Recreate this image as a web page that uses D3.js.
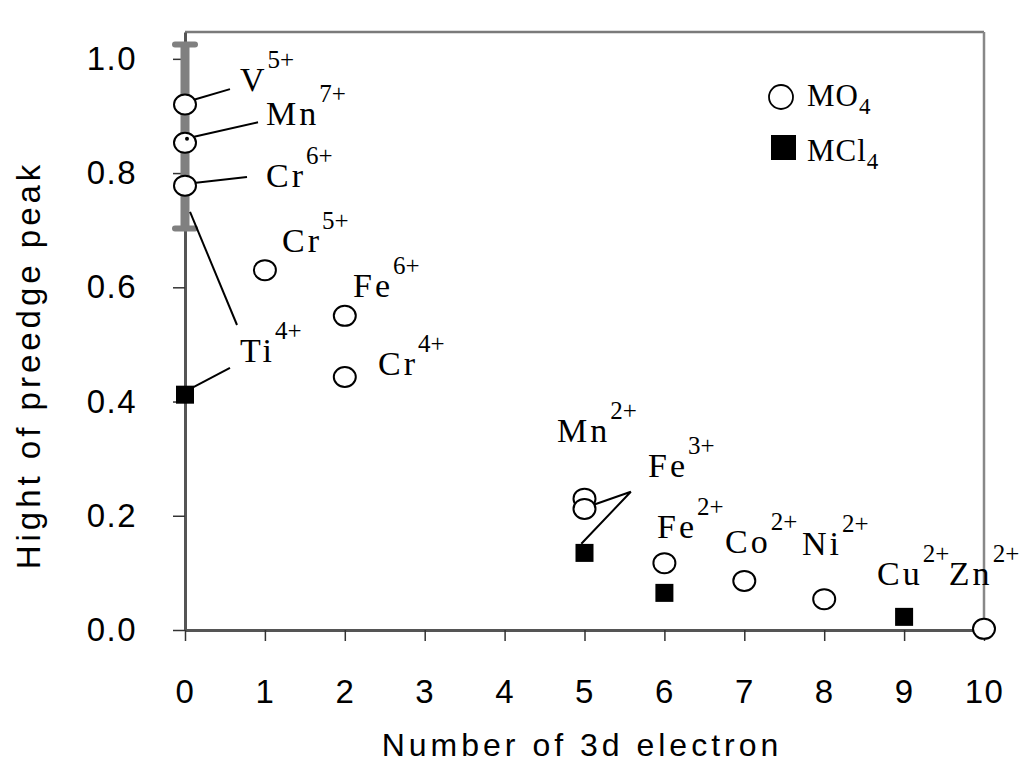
<!DOCTYPE html>
<html>
<head>
<meta charset="utf-8">
<script src="https://cdn.jsdelivr.net/npm/d3@7/dist/d3.min.js"></script>
<style>
  body { margin: 0; background: #fff; }
  svg { display: block; }
</style>
</head>
<body>
<svg id="chart" width="1019" height="763"></svg>
<script>
// MO4 series (open circles)
const mo4Ions = ['V5+', 'Mn7+', 'Cr6+', 'Cr5+', 'Fe6+', 'Cr4+', 'Mn2+', 'Fe3+', 'Fe2+', 'Co2+', 'Ni2+', 'Zn2+'];
const mo4X = [0, 0, 0, 1, 2, 2, 5, 5, 6, 7, 8, 10];
const mo4Y = [0.92, 0.853, 0.778, 0.63, 0.55, 0.443, 0.23, 0.212, 0.117, 0.086, 0.054, 0.002];

// MCl4 series (filled squares)
const mcl4Ions = ['Ti4+', 'Fe3+', 'Fe2+', 'Cu2+'];
const mcl4X = [0, 5, 6, 9];
const mcl4Y = [0.412, 0.135, 0.065, 0.023];

// grey range bar at d0
const rangeX = 0;
const rangeLow = 0.703;
const rangeHigh = 1.025;

// ion labels (position in data units)
const labelSymbol = ['V', 'Mn', 'Cr', 'Cr', 'Fe', 'Ti', 'Cr', 'Mn', 'Fe', 'Fe', 'Co', 'Ni', 'Cu', 'Zn'];
const labelCharge = ['5+', '7+', '6+', '5+', '6+', '4+', '4+', '2+', '3+', '2+', '2+', '2+', '2+', '2+'];
const labelX = [0.688, 1.014, 1.014, 1.214, 2.103, 0.688, 2.416, 4.656, 5.795, 5.907, 6.758, 7.722, 8.661, 9.56];
const labelY = [0.944, 0.884, 0.775, 0.662, 0.583, 0.469, 0.447, 0.329, 0.268, 0.161, 0.135, 0.131, 0.079, 0.079];

// leader lines from points to labels
const leaders = [
    [[0.10, 0.928], [0.563, 0.947]],
    [[0.10, 0.863], [0.914, 0.889]],
    [[0.138, 0.783], [0.776, 0.793]],
    [[0.063, 0.732], [0.651, 0.534]],
    [[0.088, 0.424], [0.563, 0.459]],
    [[5.07, 0.217], [5.58, 0.242], [4.96, 0.151]]
];

const xTicks = [0, 1, 2, 3, 4, 5, 6, 7, 8, 9, 10];
const yTicks = [0, 0.2, 0.4, 0.6, 0.8, 1.0];

const svg = d3.select('#chart');
const SANS = '"Liberation Sans", Arial, sans-serif';
const SERIF = '"Liberation Serif", "Times New Roman", serif';

const x = d3.scaleLinear().domain([0, 10]).range([185, 984]);
const y = d3.scaleLinear().domain([0, 1.047]).range([630, 32]);

svg.append('rect').attr('width', 1019).attr('height', 763).attr('fill', '#fff');

// frame: top and right
svg.append('line')
    .attr('x1', x(0)).attr('x2', x(10))
    .attr('y1', y(1.047)).attr('y2', y(1.047))
    .attr('stroke', '#7a7a7a').attr('stroke-width', 2.5);
svg.append('line')
    .attr('x1', x(10)).attr('x2', x(10))
    .attr('y1', y(1.047)).attr('y2', y(0))
    .attr('stroke', '#888').attr('stroke-width', 2.5);

// axes
const yAxis = svg.append('g')
    .attr('transform', `translate(${x(0)},0)`)
    .call(d3.axisLeft(y).tickValues(yTicks).tickFormat(d3.format('.1f'))
        .tickSize(12).tickSizeOuter(0).tickPadding(36));

const xAxis = svg.append('g')
    .attr('transform', `translate(0,${y(0)})`)
    .call(d3.axisBottom(x).tickValues(xTicks).tickFormat(d3.format('d'))
        .tickSize(11).tickSizeOuter(0).tickPadding(39));

[yAxis, xAxis].forEach(g => {
    g.select('.domain').attr('stroke', '#555').attr('stroke-width', 3);
    g.selectAll('.tick line').attr('stroke', '#333').attr('stroke-width', 1.5);
    g.selectAll('.tick text')
        .attr('fill', '#000')
        .style('font-family', SANS)
        .style('font-size', '33px')
        .style('letter-spacing', '1.5px');
});

// axis titles
svg.append('text')
    .attr('x', 582).attr('y', 756)
    .attr('text-anchor', 'middle')
    .style('font-family', SANS).style('font-size', '32px').style('letter-spacing', '4px')
    .text('Number of 3d electron');

svg.append('text')
    .attr('transform', 'translate(40,365) rotate(-90)')
    .attr('text-anchor', 'middle')
    .style('font-family', SANS).style('font-size', '33px').style('letter-spacing', '4px')
    .text('Hight of preedge peak');

// grey range bar with caps
svg.append('line')
    .attr('x1', x(rangeX)).attr('x2', x(rangeX))
    .attr('y1', y(rangeLow)).attr('y2', y(rangeHigh))
    .attr('stroke', '#808080').attr('stroke-width', 9);
[rangeLow, rangeHigh].forEach(v => {
    svg.append('line')
        .attr('x1', x(rangeX) - 10).attr('x2', x(rangeX) + 10)
        .attr('y1', y(v)).attr('y2', y(v))
        .attr('stroke', '#808080').attr('stroke-width', 6)
        .attr('stroke-linecap', 'round');
});

// leader lines
const line = d3.line().x(d => x(d[0])).y(d => y(d[1]));
svg.append('g').selectAll('path')
    .data(leaders)
    .join('path')
    .attr('d', line)
    .attr('fill', 'none')
    .attr('stroke', '#000')
    .attr('stroke-width', 2);

// MO4 circles
const mo4 = mo4Ions.map((ion, i) => ({ion, x: mo4X[i], y: mo4Y[i]}));
svg.append('g').selectAll('ellipse')
    .data(mo4)
    .join('ellipse')
    .attr('cx', d => x(d.x))
    .attr('cy', d => y(d.y))
    .attr('rx', 11).attr('ry', 10)
    .attr('fill', '#fff')
    .attr('stroke', '#000')
    .attr('stroke-width', 2);

// small dot inside the Mn7+ marker
const mn7 = mo4.find(d => d.ion === 'Mn7+');
svg.append('circle')
    .attr('cx', x(mn7.x) + 2).attr('cy', y(mn7.y) - 4)
    .attr('r', 2).attr('fill', '#000');

// MCl4 squares
const mcl4 = mcl4Ions.map((ion, i) => ({ion, x: mcl4X[i], y: mcl4Y[i]}));
const sq = 18;
svg.append('g').selectAll('rect')
    .data(mcl4)
    .join('rect')
    .attr('x', d => x(d.x) - sq / 2)
    .attr('y', d => y(d.y) - sq / 2)
    .attr('width', sq).attr('height', sq)
    .attr('fill', '#000');

// ion labels with superscript charge
const labels = labelSymbol.map((s, i) => ({s, c: labelCharge[i], x: labelX[i], y: labelY[i]}));
const lab = svg.append('g').selectAll('text')
    .data(labels)
    .join('text')
    .attr('x', d => x(d.x))
    .attr('y', d => y(d.y))
    .style('font-family', SERIF)
    .style('font-size', '34px')
    .attr('fill', '#000');
lab.append('tspan').style('letter-spacing', '3px').text(d => d.s);
lab.append('tspan')
    .attr('dy', -23)
    .style('font-size', '25px')
    .style('letter-spacing', '0px')
    .text(d => d.c);

// legend
const legend = svg.append('g');
legend.append('circle')
    .attr('cx', 781).attr('cy', 97).attr('r', 12)
    .attr('fill', '#fff').attr('stroke', '#000').attr('stroke-width', 1.8);
legend.append('rect')
    .attr('x', 771).attr('y', 135).attr('width', 25).attr('height', 25)
    .attr('fill', '#000');

const legendItems = [['MO', '4', 106], ['MCl', '4', 161]];
legendItems.forEach(([main, sub, by]) => {
    const t = legend.append('text')
        .attr('x', 807).attr('y', by)
        .style('font-family', SERIF).style('font-size', '31px');
    t.append('tspan').style('letter-spacing', '1px').text(main);
    t.append('tspan').attr('dy', 8).style('font-size', '23px').text(sub);
});
</script>
</body>
</html>
